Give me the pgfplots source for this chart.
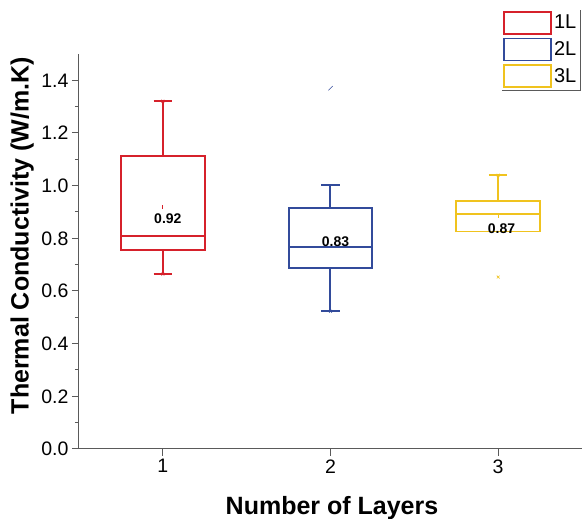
\documentclass[border=0pt]{standalone}
\usepackage{fontspec}
\setmainfont{Liberation Sans}
\usepackage{pgfplots}
\pgfplotsset{compat=1.18}
\usepgfplotslibrary{statistics}
\definecolor{cred}{RGB}{214,33,43}
\definecolor{cblue}{RGB}{50,75,155}
\definecolor{cyel}{RGB}{240,195,30}
\definecolor{axgray}{RGB}{90,90,90}
\begin{document}
\begin{tikzpicture}
\begin{axis}[
  at={(0,0)}, anchor=south west,
  scale only axis, width=503pt, height=395pt,
  xmin=0.5, xmax=3.5, ymin=0, ymax=1.5,
  axis x line*=bottom, axis y line*=left,
  axis line style={axgray, line width=1pt, -},
  xtick={1,2,3}, ytick={0,0.2,0.4,0.6,0.8,1.0,1.2,1.4},
  minor y tick num=1,
  tick align=outside,
  major tick length=7pt, minor tick length=4pt,
  tick style={axgray, line width=1pt},
  yticklabel style={/pgf/number format/.cd, fixed, fixed zerofill, precision=1},
  /pgf/number format/assume math mode=true,
  ticklabel style={font=\fontsize{19.5}{19.5}\selectfont},
  xlabel={Number of Layers}, ylabel={Thermal Conductivity (W/m.K)},
  label style={font=\bfseries\fontsize{25}{25}\selectfont},
  xlabel style={at={(axis description cs:0.503,-0.149)}, anchor=center},
  ylabel style={at={(axis description cs:-0.113,0.54)}, anchor=center},
  clip=false,
  boxplot/draw direction=y,
  legend style={at={(rel axis cs:0.996,0.909)}, anchor=south east, draw=none, fill=none,
    inner sep=1.5pt, row sep=3pt, font=\fontsize{20}{20}\selectfont},
  legend cell align=left,
]
\addplot[draw=cred, line width=2pt, mark=none,
  boxplot prepared={draw position=1, lower whisker=0.664, lower quartile=0.754,
    median=0.81, upper quartile=1.113, upper whisker=1.321, box extend=0.5, whisker extend=0.11},
  legend image code/.code={\draw[cred, line width=1.8pt] (0pt,-11pt) rectangle (47pt,11pt);}]
  coordinates {};
\addlegendentry{1L}
\addplot[draw=cblue, line width=2pt, mark=|, mark size=3pt, mark options={rotate=-45, line width=0.6pt, cblue},
  boxplot prepared={draw position=2, lower whisker=0.523, lower quartile=0.688,
    median=0.767, upper quartile=0.914, upper whisker=1.003, box extend=0.5, whisker extend=0.11},
  legend image code/.code={\draw[cblue, line width=1.8pt] (0pt,-11pt) rectangle (47pt,11pt);}]
  coordinates {(0,1.37)};
\addlegendentry{2L}
\addplot[draw=cyel, line width=1.8pt, mark=x, mark size=2pt, mark options={line width=0.6pt, cyel},
  boxplot prepared={draw position=3, lower whisker=0.826, lower quartile=0.826,
    median=0.893, upper quartile=0.943, upper whisker=1.04, box extend=0.5, whisker extend=0.11},
  legend image code/.code={\draw[cyel, line width=1.8pt] (0pt,-11pt) rectangle (47pt,11pt);}]
  coordinates {(0,0.653)};
\addlegendentry{3L}
% min/max markers
\addplot[forget plot, only marks, mark=x, mark size=2pt, cred, line width=0.5pt] coordinates {(1,0.664) (1,1.321)};
\addplot[forget plot, only marks, mark=x, mark size=2pt, cblue, line width=0.5pt] coordinates {(2,0.523)};
\addplot[forget plot, only marks, mark=x, mark size=2pt, cyel, line width=0.5pt] coordinates {(3,1.04)};
% means
\addplot[forget plot, only marks, mark=|, mark size=2pt, cred, line width=0.8pt] coordinates {(1,0.918)};
\addplot[forget plot, only marks, mark=|, mark size=2pt, cyel, line width=0.8pt] coordinates {(3,0.883)};
% mean labels
\node[font=\bfseries\fontsize{14}{14}\selectfont] at (axis cs:1.03,0.874) {0.92};
\node[font=\bfseries\fontsize{14}{14}\selectfont] at (axis cs:2.03,0.786) {0.83};
\node[font=\bfseries\fontsize{14}{14}\selectfont] at (axis cs:3.02,0.836) {0.87};
% legend frame (shadow lines)
\draw[axgray, line width=0.8pt] (rel axis cs:0.841,0.909) -- (rel axis cs:0.996,0.909) -- (rel axis cs:0.996,1.111);
\end{axis}
\pgfresetboundingbox
\path (-79pt,-70pt) rectangle (503pt,449pt);
\end{tikzpicture}
\end{document}
